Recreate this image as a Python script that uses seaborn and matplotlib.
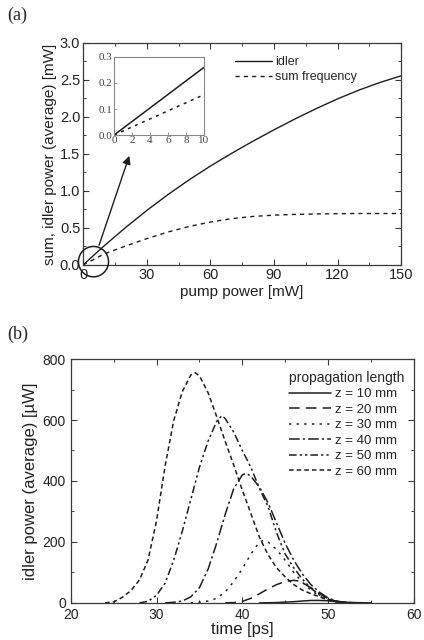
import numpy as np
import pandas as pd
import matplotlib
matplotlib.use("Agg")
import matplotlib.pyplot as plt
from matplotlib.patches import Ellipse
from matplotlib.lines import Line2D
from matplotlib.ticker import MultipleLocator
import seaborn as sns

sns.set_style("ticks")
plt.rcParams['font.family'] = ['Liberation Sans', 'DejaVu Sans']

# ---------------- data: panel (a) ----------------
pump = [0, 10, 20, 30, 40, 50, 60, 70, 80, 90, 100, 110, 120, 130, 140, 150]
idler = [0, 0.26, 0.505, 0.735, 0.95, 1.15, 1.335, 1.507, 1.67, 1.825, 1.973, 2.113,
         2.243, 2.361, 2.465, 2.555]
sumfreq = [0, 0.15, 0.255, 0.355, 0.445, 0.52, 0.58, 0.625, 0.655, 0.673, 0.683, 0.689,
           0.693, 0.695, 0.695, 0.695]
inset_pump = [0, 10]
inset_idler = [0, 0.26]
inset_sum = [0, 0.155]

# ---------------- data: panel (b) ----------------
t10 = [42, 44, 46, 47, 48, 49, 50, 51, 52, 53, 55]
v10 = [0, 1, 4, 6, 8, 8, 7, 4, 2, 1, 0]
t20 = [38, 39, 40, 41, 42, 43, 44, 45, 46, 46.5, 47, 48, 49, 50, 51, 52, 53]
v20 = [0, 1, 5, 15, 30, 46, 60, 70, 74, 72, 66, 50, 30, 14, 5, 1, 0]
t30 = [34, 35, 36, 37, 38, 39, 40, 41, 42, 42.5, 43, 44, 45, 46, 47, 48, 49, 50, 51, 52]
v30 = [0, 2, 6, 15, 35, 70, 112, 160, 200, 205, 200, 175, 140, 100, 68, 42, 22, 10, 3, 0]
t40 = [31, 32, 33, 34, 35, 36, 37, 38, 39, 40, 40.5, 41, 42, 43, 44, 45, 46, 47, 48, 49, 50, 51, 52, 53]
v40 = [0, 2, 6, 20, 50, 110, 195, 290, 375, 420, 425, 415, 380, 328, 262, 195, 140, 95, 60, 35, 16, 6, 2, 0]
t50 = [28, 29, 30, 31, 32, 33, 34, 35, 36, 37, 37.6, 38, 39, 40, 41, 42, 43, 44, 45, 46, 47, 48, 49, 50, 51, 52, 53]
v50 = [0, 5, 25, 65, 140, 235, 340, 445, 530, 595, 614, 605, 560, 500, 445, 375, 316, 230, 160, 115, 78, 48, 26, 12, 4, 1, 0]
t60 = [24, 25, 26, 27, 28, 29, 30, 31, 32, 33, 34, 34.5, 35, 36, 37, 38, 39, 40, 41, 42, 43, 44, 45, 46, 47, 48, 49, 50, 51, 52, 54]
v60 = [0, 3, 18, 40, 75, 140, 270, 450, 598, 693, 748, 755, 745, 690, 612, 530, 452, 370, 293, 215, 158, 115, 85, 60, 42, 30, 20, 9, 3, 1, 0]
z_labels = ["z = 10 mm", "z = 20 mm", "z = 30 mm", "z = 40 mm", "z = 50 mm", "z = 60 mm"]

LC = "#1e1e1e"
SC = "#3a3a3a"

fig = plt.figure(figsize=(4.24, 6.4), dpi=100)

def style_axes(ax):
    for s in ax.spines.values():
        s.set_color(SC)
        s.set_linewidth(0.9)
    ax.tick_params(direction='in', which='both', top=True, right=True, colors=SC,
                   labelcolor="#222222")
    ax.tick_params(which='major', length=4, width=0.8)
    ax.tick_params(which='minor', length=2.5, width=0.7)

# ---------------- panel (a) ----------------
axa = fig.add_axes([0.196, 0.586, 0.750, 0.347])
dfa = pd.DataFrame({
    "pump": pump + pump,
    "power": idler + sumfreq,
    "series": ["idler"] * len(pump) + ["sum frequency"] * len(pump),
})
sns.lineplot(data=dfa, x="pump", y="power", style="series",
             dashes={"idler": "", "sum frequency": (3, 3)},
             color=LC, linewidth=1.0, ax=axa, legend=False)
axa.set_xlim(0, 150)
axa.set_ylim(0, 3.0)
axa.xaxis.set_major_locator(MultipleLocator(30))
axa.xaxis.set_minor_locator(MultipleLocator(15))
axa.yaxis.set_major_locator(MultipleLocator(0.5))
axa.yaxis.set_minor_locator(MultipleLocator(0.25))
axa.yaxis.set_major_formatter(matplotlib.ticker.FormatStrFormatter('%.1f'))
style_axes(axa)
axa.tick_params(labelsize=10.5, pad=2)
axa.set_xlabel("pump power [mW]", fontsize=11, color="#222222", labelpad=2)
axa.set_ylabel("sum, idler power (average) [mW]", fontsize=11, color="#222222", labelpad=2)
ha = [Line2D([], [], color=LC, lw=1.0),
      Line2D([], [], color=LC, lw=1.0, dashes=(3, 3))]
axa.legend(ha, ["idler", "sum frequency"], loc="upper left", bbox_to_anchor=(0.45, 0.98),
           frameon=False, fontsize=9, handlelength=3.0, handletextpad=0.2,
           labelspacing=0.25, borderpad=0.2)
circ = Ellipse((4.9, 0.045), width=14.2, height=0.41, fill=False, edgecolor=LC,
               lw=1.1, clip_on=False, zorder=5)
axa.add_patch(circ)
axa.annotate("", xy=(22.2, 1.51), xytext=(7.1, 0.23),
             arrowprops=dict(arrowstyle="-|>", color=LC, lw=1.0, mutation_scale=12),
             annotation_clip=False)

# inset
axi = fig.add_axes([0.269, 0.789, 0.212, 0.122])
dfi = pd.DataFrame({
    "pump": inset_pump + inset_pump,
    "power": inset_idler + inset_sum,
    "series": ["idler"] * 2 + ["sum frequency"] * 2,
})
sns.lineplot(data=dfi, x="pump", y="power", style="series",
             dashes={"idler": "", "sum frequency": (2, 3)},
             color=LC, linewidth=1.1, ax=axi, legend=False)
axi.set_xlim(0, 10)
axi.set_ylim(0, 0.3)
axi.xaxis.set_major_locator(MultipleLocator(2))
axi.yaxis.set_major_locator(MultipleLocator(0.1))
axi.yaxis.set_major_formatter(matplotlib.ticker.FormatStrFormatter('%.1f'))
for s in axi.spines.values():
    s.set_color("#888888")
    s.set_linewidth(0.8)
axi.tick_params(direction='in', length=2.5, width=0.6, colors="#888888",
                labelcolor="#444444", labelsize=8, pad=1)
for lab in axi.get_xticklabels() + axi.get_yticklabels():
    lab.set_fontfamily(["Liberation Serif", "DejaVu Serif"])
axi.set_xlabel("")
axi.set_ylabel("")

# ---------------- panel (b) ----------------
axb = fig.add_axes([0.167, 0.058, 0.809, 0.381])
ts = [t10, t20, t30, t40, t50, t60]
vs = [v10, v20, v30, v40, v50, v60]
rows_t, rows_v, rows_z = [], [], []
for lab, tt, vv in zip(z_labels, ts, vs):
    rows_t += tt
    rows_v += vv
    rows_z += [lab] * len(tt)
dfb = pd.DataFrame({"time": rows_t, "power": rows_v, "z": rows_z})
dash_map = {
    "z = 10 mm": "",
    "z = 20 mm": (7, 4),
    "z = 30 mm": (1.5, 3.5),
    "z = 40 mm": (7, 2, 1.5, 2),
    "z = 50 mm": (5, 2, 1.5, 2, 1.5, 2),
    "z = 60 mm": (3, 2),
}
sns.lineplot(data=dfb, x="time", y="power", style="z", dashes=dash_map,
             style_order=z_labels, color=LC, linewidth=1.1, ax=axb, legend=False)
axb.set_xlim(20, 60)
axb.set_ylim(0, 800)
axb.xaxis.set_major_locator(MultipleLocator(10))
axb.xaxis.set_minor_locator(MultipleLocator(5))
axb.yaxis.set_major_locator(MultipleLocator(200))
axb.yaxis.set_minor_locator(MultipleLocator(100))
style_axes(axb)
axb.tick_params(labelsize=10)
axb.set_xlabel("time [ps]", fontsize=12, color="#222222", labelpad=0)
axb.set_ylabel("idler power (average) [µW]", fontsize=12, color="#222222", labelpad=3)
hb = [Line2D([], [], color=LC, lw=1.1, dashes=dash_map[k]) if dash_map[k] != ""
      else Line2D([], [], color=LC, lw=1.1) for k in z_labels]
leg = axb.legend(hb, z_labels, title="propagation length", loc="upper right",
                 bbox_to_anchor=(1.0, 0.99), frameon=False, fontsize=9.5,
                 title_fontsize=10, handlelength=3.2, handletextpad=0.3,
                 labelspacing=0.25, borderpad=0.2)
leg._legend_box.align = "left"

# panel labels
fig.text(0.018, 0.976, "(a)", fontsize=13, family=["Liberation Serif", "DejaVu Serif"],
         va="center", ha="left")
fig.text(0.018, 0.477, "(b)", fontsize=13, family=["Liberation Serif", "DejaVu Serif"],
         va="center", ha="left")

fig.savefig("out.png", dpi=100)
